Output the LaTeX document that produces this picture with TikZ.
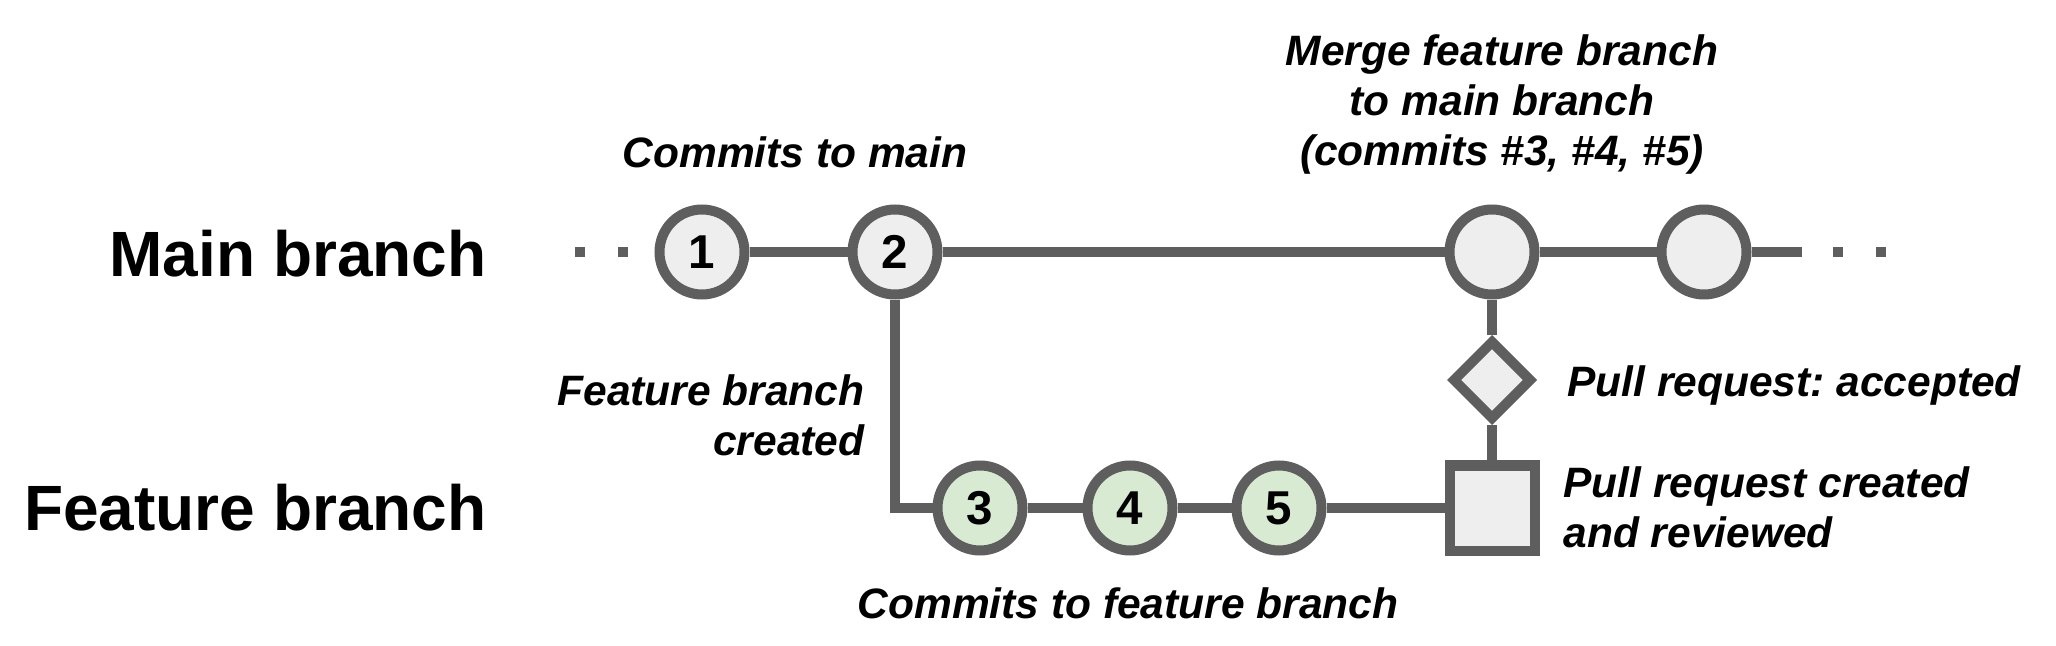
\documentclass[tikz,border=0pt]{standalone}
\usepackage{fontspec}
\setmainfont{Liberation Sans}
\usetikzlibrary{shapes.geometric}
\definecolor{gris}{HTML}{5E5E5E}
\definecolor{relleno}{HTML}{EEEEEE}
\definecolor{verde}{HTML}{D9EAD3}

\begin{document}
\begin{tikzpicture}[x=0.4pt, y=-0.4pt,
	commit/.style={circle, draw=gris, line width=4pt, fill=relleno, minimum size=34pt, inner sep=0pt, font=\fontsize{19}{19}\selectfont\bfseries},
	fcommit/.style={commit, fill=verde},
	prbox/.style={rectangle, draw=gris, line width=4pt, fill=relleno, minimum size=34pt, inner sep=0pt},
	okbox/.style={diamond, draw=gris, line width=4pt, fill=relleno, minimum width=32pt, minimum height=32pt, inner sep=0pt},
	rama/.style={font=\fontsize{25.6}{30}\selectfont\bfseries, inner sep=0pt},
	nota/.style={font=\fontsize{17}{20}\selectfont\bfseries\itshape\frenchspacing, inner sep=0pt},
	enlace/.style={draw=gris, line width=4pt},
	puntos/.style={enlace, dash pattern=on 4pt off 13.2pt}]
	\useasboundingbox (0,0) rectangle (2056,646);

	% Rama principal
	\node[rama, anchor=east] (lmain) at (487,254) {Main branch};
	\node[commit] (c1) at (702,252) {1};
	\node[commit] (c2) at (895,252) {2};
	\node[commit] (cm) at (1492,252) {};
	\node[commit] (c6) at (1704,252) {};
	\coordinate (pizq) at (575,252);
	\coordinate (cola) at (1802,252);
	\coordinate (pder0) at (1833,252);
	\coordinate (pder1) at (1890,252);

	% Rama de la funcionalidad
	\node[rama, anchor=east] (lfeat) at (487,508) {Feature branch};
	\node[fcommit] (c3) at (980,508) {3};
	\node[fcommit] (c4) at (1130,508) {4};
	\node[fcommit] (c5) at (1279,508) {5};
	\node[prbox] (pr) at (1492,508) {};
	\node[okbox] (ok) at (1492,380) {};

	% Enlaces
	\draw[puntos] (pizq) -- (c1);
	\draw[enlace] (c1) -- (c2) -- (cm) -- (c6) -- (cola);
	\draw[puntos] (pder0) -- (pder1);
	\draw[enlace] (c2) |- (c3);
	\draw[enlace] (c3) -- (c4) -- (c5) -- (pr);
	\draw[enlace] (pr) -- (ok) -- (cm);

	% Textos (la base es la de la ultima linea)
	\node[nota, anchor=base] (tmain) at (795,168) {Commits to main};
	\node[nota, anchor=base, align=center] (tmerge) at (1502,166) {Merge feature branch\\to main branch\\(commits \#3, \#4, \#5)};
	\node[nota, anchor=base east, align=right] (tnew) at (865,455) {Feature branch\\created};
	\node[nota, anchor=base west] (tok) at (1567,397) {Pull request: accepted};
	\node[nota, anchor=base west, align=left] (tpr) at (1563,547) {Pull request created\\and reviewed};
	\node[nota, anchor=base] (tfeat) at (1128,618) {Commits to feature branch};
\end{tikzpicture}
\end{document}
